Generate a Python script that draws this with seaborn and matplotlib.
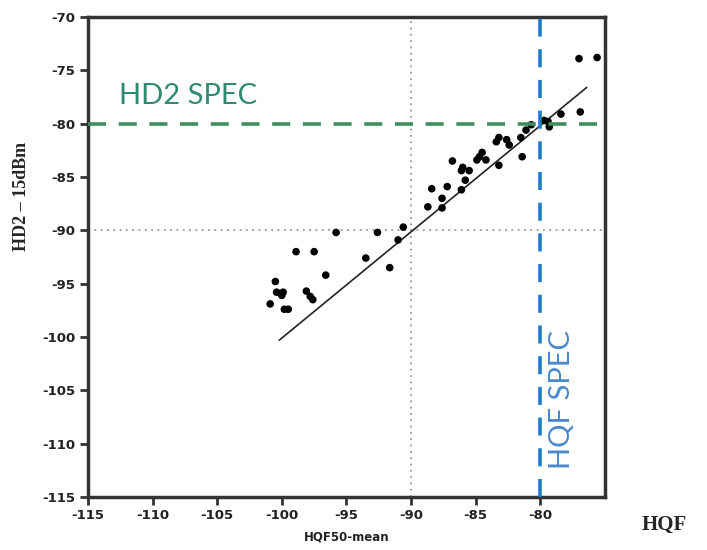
import numpy as np
import pandas as pd
import matplotlib
matplotlib.use("Agg")
import matplotlib.pyplot as plt
import seaborn as sns

# measured points (HQF50-mean vs HD2)
hqf = [-95.8, -92.6, -98.9, -97.5, -93.5, -91.65, -96.6, -100.5, -100.4, -99.9,
       -100.0, -98.1, -97.8, -97.6, -100.9, -99.8, -99.5, -91.0, -90.6,
       -86.8, -88.7, -88.4, -87.6, -87.6, -87.2, -86.1, -86.0, -86.1, -84.9,
       -84.7, -84.2, -84.5, -83.2, -83.4, -83.2, -82.6, -82.4, -81.5, -81.4,
       -81.1, -80.7, -79.7, -79.4, -79.3, -78.4, -76.9, -77.0, -75.6,
       -85.5, -85.8]
hd2 = [-90.2, -90.2, -92.0, -92.0, -92.6, -93.5, -94.2, -94.8, -95.8, -95.8,
       -96.1, -95.7, -96.2, -96.5, -96.9, -97.4, -97.4, -90.9, -89.7,
       -83.5, -87.8, -86.1, -87.9, -87.0, -85.9, -86.2, -84.1, -84.4, -83.4,
       -83.1, -83.4, -82.7, -83.9, -81.7, -81.3, -81.5, -82.0, -81.3, -83.1,
       -80.6, -80.1, -79.7, -79.8, -80.3, -79.1, -78.9, -73.9, -73.8,
       -84.4, -85.3]

# fit line end points
fit_x = [-100.2, -76.4]
fit_y = [-100.3, -76.6]

hd2_spec = -80
hqf_spec = -80
ref_level = -90

x_ticks = [-115, -110, -105, -100, -95, -90, -85, -80]
y_ticks = [-70, -75, -80, -85, -90, -95, -100, -105, -110, -115]

df = pd.DataFrame({"hqf": hqf, "hd2": hd2})
fit = pd.DataFrame({"x": fit_x, "y": fit_y})

sns.set_style("white")
plt.rcParams['font.family'] = ['DejaVu Sans']

fig = plt.figure(figsize=(7.07, 5.5), dpi=100)
ax = fig.add_axes([0.1245, 0.0964, 0.731, 0.8727])

# reference grid lines
ax.axvline(ref_level, color='#999999', ls=(0, (1, 2.5)), lw=1.3, zorder=1)
ax.axhline(ref_level, color='#999999', ls=(0, (1, 2.5)), lw=1.3, zorder=1)

sns.lineplot(data=fit, x="x", y="y", color='#222222', lw=1.2, ax=ax, zorder=2)
sns.scatterplot(data=df, x="hqf", y="hd2", color='black', s=30, edgecolor='none',
                ax=ax, zorder=3)

# spec limits
ax.plot([-115, -75.6], [hd2_spec, hd2_spec], color='#3f8f5e', lw=2.6,
        ls=(0, (5, 3.5)), zorder=4)
ax.axvline(hqf_spec, color='#1f7cc7', lw=2.6, ls=(0, (5, 3.5)), zorder=4)

ax.text(-112.6, -77.4, "HD2 SPEC", color='#2f8a72', fontsize=21,
        family='Lato', va='center', ha='left')
ax.text(-78.3, -105.9, "HQF SPEC", color='#4a88cc', fontsize=21,
        family='Lato', rotation=90, va='center', ha='center')

ax.set_xlim(-115, -75)
ax.set_ylim(-115, -70)
ax.set_xticks(x_ticks)
ax.set_yticks(y_ticks)
ax.set_xticklabels([str(v) for v in x_ticks], fontsize=9.5, fontweight='bold', color='#222222')
ax.set_yticklabels([str(v) for v in y_ticks], fontsize=9.5, fontweight='bold', color='#222222')
ax.tick_params(direction='out', length=6, width=2, color='#333333', pad=3,
               left=True, bottom=True)
for s in ax.spines.values():
    s.set_color('#333333')
    s.set_linewidth(2.5)

ax.set_xlabel("HQF50-mean", fontsize=8.5, fontweight='bold', color='#222222', labelpad=6)
ax.set_ylabel("")

fig.text(0.031, 0.642, "HD2 – 15dBm", rotation=90, fontsize=13,
         fontweight='bold', family='Liberation Serif', ha='center', va='center')
fig.text(0.94, 0.045, "HQF", fontsize=15, fontweight='bold',
         family='Liberation Serif', ha='center', va='center')

fig.savefig("out.png", dpi=100)
